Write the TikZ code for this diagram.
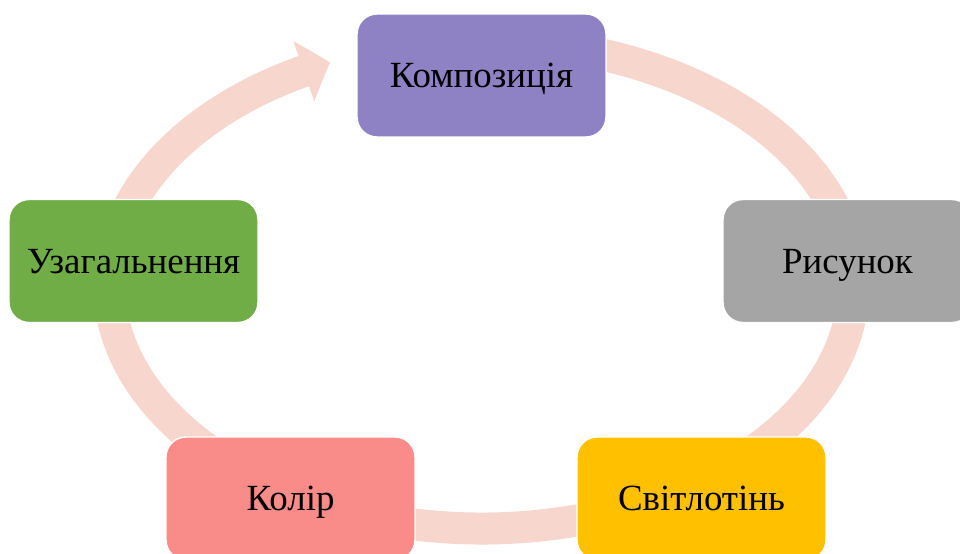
\documentclass[tikz,border=0pt]{standalone}
\usepackage{fontspec}
\setmainfont{Liberation Serif}
\usepackage{xcolor}
\usetikzlibrary{arrows.meta,bending}

\definecolor{ringpink}{HTML}{F7D7CD}
\definecolor{kompfill}{HTML}{8E82C4}
\definecolor{risfill}{HTML}{A5A5A5}
\definecolor{svitfill}{HTML}{FFC000}
\definecolor{kolirfill}{HTML}{F98B88}
\definecolor{uzagfill}{HTML}{70AD47}

\tikzset{
  stage/.style={draw=white, line width=0.8pt, rounded corners=0.4cm,
    minimum width=4.98cm, minimum height=2.46cm, text=black,
    text height=14pt, text depth=0pt,
    font=\fontsize{21}{25}\selectfont}
}

\begin{document}
\begin{tikzpicture}[x=0.02cm,y=0.02cm]
\clip (0,0) rectangle (960,-554);
\coordinate (hub) at (481.5,-285);

% ring under the boxes
\draw[ringpink, line width=0.64cm, -{Triangle[width=1.24cm,length=0.56cm,bend]}]
  ([shift={(80:372 and 243.5)}]hub) arc[start angle=80, end angle=-246, x radius=372, y radius=243.5];

\node[stage, fill=kompfill] (komp) at (481.5,-75.5) {Композиція};
\node[stage, fill=risfill] (ris) at (847.5,-261) {Рисунок};
\node[stage, fill=svitfill] (svit) at (701.5,-498.5) {Світлотінь};
\node[stage, fill=kolirfill] (kolir) at (290.5,-498.5) {Колір};
\node[stage, fill=uzagfill] (uzag) at (133.5,-261) {Узагальнення};
\end{tikzpicture}
\end{document}
